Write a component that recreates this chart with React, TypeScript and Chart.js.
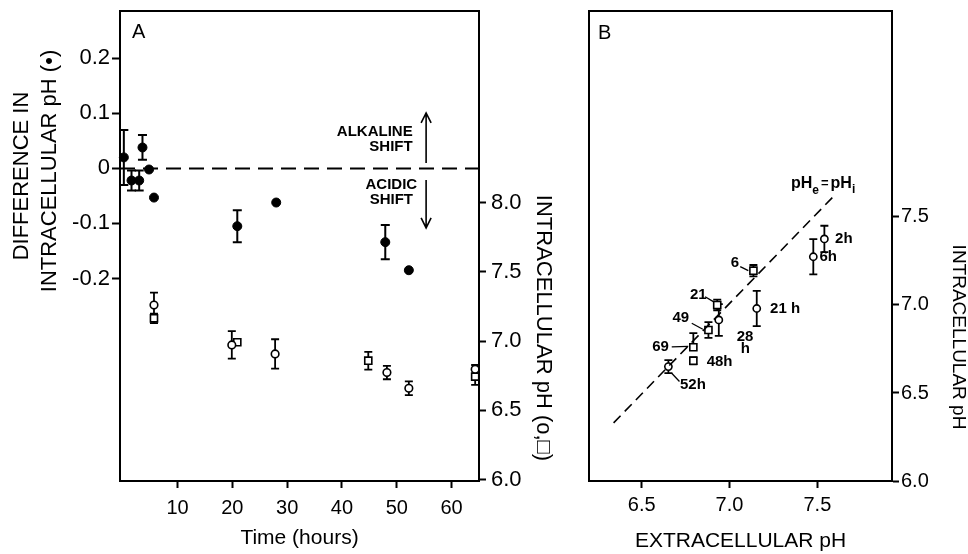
import React, { useEffect, useRef } from 'react';
import { Chart, registerables } from 'chart.js';

Chart.register(...registerables);

const FONT = '"Liberation Sans", Arial, Helvetica, sans-serif';

// ---------------- Panel A : time course ----------------
const timeFilledA = [0.2, 1.6, 3.0, 3.6, 4.8, 5.7, 20.9, 28.0, 47.9, 52.2];
const diffFilledA = [0.02, -0.022, -0.022, 0.038, -0.002, -0.053, -0.105, -0.062, -0.134, -0.185];
const diffErrA = [0.05, 0.018, 0.018, 0.0225, 0, 0, 0.029, 0, 0.031, 0];

const timeCircleA = [5.7, 19.9, 27.8, 48.2, 52.2, 64.3];
const phCircleA = [7.261, 6.973, 6.908, 6.773, 6.66, 6.797];
const phCircleErrA = [0.089, 0.099, 0.106, 0.048, 0.05, 0.031];

const timeSquareA = [5.7, 20.9, 44.8, 64.3];
const phSquareA = [7.165, 6.992, 6.859, 6.744];
const phSquareErrA = [0.034, 0, 0.064, 0.06];

const timeTicksA = [10, 20, 30, 40, 50, 60];
const diffTicksA = [0.2, 0.1, 0, -0.1, -0.2];
const phTicksA = [6.0, 6.5, 7.0, 7.5, 8.0];
const timeRangeA = [-0.5, 65];
const diffRangeA = [-0.568, 0.286];
const phRangeA = [5.99, 9.385];

// ---------------- Panel B : pHi vs pHe ----------------
const pheCircleB = [7.54, 7.477, 7.155, 6.939, 6.652];
const phiCircleB = [7.375, 7.274, 6.98, 6.915, 6.65];
const phiCircleErrB = [0.075, 0.1, 0.1, 0.09, 0.037];

const pheSquareB = [7.136, 6.93, 6.88, 6.794, 6.794];
const phiSquareB = [7.195, 7.0, 6.858, 6.76, 6.683];
const phiSquareErrUpB = [0.032, 0.03, 0.045, 0.08, 0.02];
const phiSquareErrDownB = [0.032, 0.03, 0.045, 0, 0.02];

const pheIdentityB = [6.34, 7.59];
const phiIdentityB = [6.33, 7.615];

const pheTicksB = [6.5, 7.0, 7.5];
const phiTicksB = [6.0, 6.5, 7.0, 7.5];
const pheRangeB = [6.2, 7.925];
const phiRangeB = [6.0, 8.67];

// ---------------- annotations (anchored in data units) ----------------
const shiftLabelsA = [
  { text: 'ALKALINE', x: 52.9, y: 0.0667, align: 'right' },
  { text: 'SHIFT', x: 52.9, y: 0.0395, align: 'right' },
  { text: 'ACIDIC', x: 49.0, y: -0.03, align: 'center' },
  { text: 'SHIFT', x: 49.0, y: -0.0575, align: 'center' },
];
const shiftArrowsA = [
  { x: 55.35, from: 0.0098, to: 0.1007 },
  { x: 55.35, from: -0.021, to: -0.108 },
];

const pointLabelsB = [
  { text: '2h', x: 7.601, y: 7.375, align: 'left' },
  { text: '6h', x: 7.512, y: 7.274, align: 'left' },
  { text: '6', x: 7.031, y: 7.237, align: 'center' },
  { text: '21', x: 6.822, y: 7.057, align: 'center' },
  { text: '21 h', x: 7.231, y: 6.976, align: 'left' },
  { text: '49', x: 6.723, y: 6.924, align: 'center' },
  { text: '28', x: 7.088, y: 6.82, align: 'center' },
  { text: 'h', x: 7.09, y: 6.752, align: 'center' },
  { text: '69', x: 6.607, y: 6.76, align: 'center' },
  { text: '48h', x: 6.87, y: 6.678, align: 'left' },
  { text: '52h', x: 6.718, y: 6.545, align: 'left' },
];
const leadersB = [
  { x1: 7.061, y1: 7.218, x2: 7.107, y2: 7.195 },
  { x1: 6.861, y1: 7.047, x2: 6.908, y2: 7.019 },
  { x1: 6.785, y1: 6.896, x2: 6.848, y2: 6.862 },
  { x1: 6.671, y1: 6.762, x2: 6.765, y2: 6.765 },
  { x1: 6.671, y1: 6.612, x2: 6.715, y2: 6.565 },
];
const identityLabelB = { x: 7.35, y: 7.665 };

// ---------------- plugins ----------------
const errorBarsPlugin = {
  id: 'errorBars',
  beforeDatasetsDraw(chart: any) {
    const ctx = chart.ctx;
    chart.data.datasets.forEach((ds: any, i: number) => {
      if (!ds.errUp) return;
      const meta = chart.getDatasetMeta(i);
      const xs = meta.xScale;
      const ys = meta.yScale;
      ctx.save();
      ctx.strokeStyle = '#000';
      ctx.lineWidth = ds.errLineWidth || 2;
      const c = ds.capHalf || 4;
      ds.data.forEach((p: any, j: number) => {
        const up = ds.errUp[j] || 0;
        const dn = ds.errDown[j] || 0;
        if (!up && !dn) return;
        const x = xs.getPixelForValue(p.x);
        const yT = ys.getPixelForValue(p.y + up);
        const yB = ys.getPixelForValue(p.y - dn);
        ctx.beginPath();
        ctx.moveTo(x, yT);
        ctx.lineTo(x, yB);
        if (up) { ctx.moveTo(x - c, yT); ctx.lineTo(x + c, yT); }
        if (dn) { ctx.moveTo(x - c, yB); ctx.lineTo(x + c, yB); }
        ctx.stroke();
      });
      ctx.restore();
    });
  },
};

function drawRotated(ctx: any, text: string, x: number, y: number, rot: number, font: string) {
  ctx.save();
  ctx.translate(x, y);
  ctx.rotate(rot);
  ctx.font = font;
  ctx.textAlign = 'center';
  ctx.textBaseline = 'middle';
  ctx.fillStyle = '#000';
  ctx.fillText(text, 0, 0);
  ctx.restore();
}

function drawArrow(ctx: any, x: number, y0: number, y1: number) {
  const dir = Math.sign(y1 - y0);
  ctx.beginPath();
  ctx.moveTo(x, y0);
  ctx.lineTo(x, y1);
  ctx.moveTo(x - 5, y1 - dir * 10);
  ctx.lineTo(x, y1);
  ctx.lineTo(x + 5, y1 - dir * 10);
  ctx.stroke();
}

const annotationsA = {
  id: 'annotationsA',
  afterDraw(chart: any) {
    const { ctx, chartArea: ca, scales } = chart;
    const xs = scales.x;
    const ys = scales.y;
    ctx.save();
    ctx.strokeStyle = '#000';
    ctx.fillStyle = '#000';
    ctx.lineWidth = 2;
    ctx.strokeRect(ca.left, ca.top, ca.right - ca.left, ca.bottom - ca.top);

    ctx.font = `20px ${FONT}`;
    ctx.textAlign = 'left';
    ctx.textBaseline = 'middle';
    ctx.fillText('A', ca.left + 12, ca.top + 21);

    ctx.font = `bold 15px ${FONT}`;
    shiftLabelsA.forEach((l) => {
      ctx.textAlign = l.align;
      ctx.fillText(l.text, xs.getPixelForValue(l.x), ys.getPixelForValue(l.y));
    });
    ctx.lineWidth = 1.6;
    shiftArrowsA.forEach((a) => {
      drawArrow(ctx, xs.getPixelForValue(a.x), ys.getPixelForValue(a.from), ys.getPixelForValue(a.to));
    });

    drawRotated(ctx, 'DIFFERENCE IN', ca.left - 98, ca.top + 165, -Math.PI / 2, `22px ${FONT}`);
    drawRotated(ctx, 'INTRACELLULAR pH (\u2022)', ca.left - 70, ca.top + 160, -Math.PI / 2, `22px ${FONT}`);
    drawRotated(ctx, 'INTRACELLULAR pH (o,\u25A1)', ca.right + 64, ca.top + 317, Math.PI / 2, `22px ${FONT}`);
    ctx.restore();
  },
};

const annotationsB = {
  id: 'annotationsB',
  afterDraw(chart: any) {
    const { ctx, chartArea: ca, scales } = chart;
    const xs = scales.x;
    const ys = scales.y;
    ctx.save();
    ctx.strokeStyle = '#000';
    ctx.fillStyle = '#000';
    ctx.lineWidth = 2;
    ctx.strokeRect(ca.left, ca.top, ca.right - ca.left, ca.bottom - ca.top);

    ctx.font = `20px ${FONT}`;
    ctx.textAlign = 'left';
    ctx.textBaseline = 'middle';
    ctx.fillText('B', ca.left + 9, ca.top + 22);

    ctx.font = `bold 15px ${FONT}`;
    pointLabelsB.forEach((l) => {
      ctx.textAlign = l.align;
      ctx.fillText(l.text, xs.getPixelForValue(l.x), ys.getPixelForValue(l.y));
    });

    ctx.lineWidth = 1.3;
    leadersB.forEach((l) => {
      ctx.beginPath();
      ctx.moveTo(xs.getPixelForValue(l.x1), ys.getPixelForValue(l.y1));
      ctx.lineTo(xs.getPixelForValue(l.x2), ys.getPixelForValue(l.y2));
      ctx.stroke();
    });

    // pHe = pHi
    let cx = xs.getPixelForValue(identityLabelB.x);
    const by = ys.getPixelForValue(identityLabelB.y);
    ctx.textAlign = 'left';
    ctx.textBaseline = 'alphabetic';
    const seg = (t: string, size: number, dy: number, gap: number) => {
      ctx.font = `bold ${size}px ${FONT}`;
      ctx.fillText(t, cx, by + dy);
      cx += ctx.measureText(t).width + gap;
    };
    seg('pH', 16, 0, 0);
    seg('e', 12, 6, 2);
    seg('=', 13, -1, 2);
    seg('pH', 16, 0, 0);
    seg('i', 12, 5, 0);

    drawRotated(ctx, 'INTRACELLULAR pH', ca.right + 66, ca.top + 326, Math.PI / 2, `19px ${FONT}`);
    ctx.restore();
  },
};

const pts = (xs: number[], ys: number[]) => xs.map((x, i) => ({ x, y: ys[i] }));

const tickFont = (size: number) => ({ family: FONT, size });

function buildA(canvas: HTMLCanvasElement) {
  return new Chart(canvas, {
    type: 'scatter',
    data: {
      datasets: [
        {
          label: 'zero line',
          data: pts(timeRangeA, [0, 0]),
          showLine: true,
          borderColor: '#000',
          borderWidth: 2,
          borderDash: [15, 8],
          pointRadius: 0,
          yAxisID: 'y',
          clip: false,
        },
        {
          label: 'Difference in intracellular pH',
          data: pts(timeFilledA, diffFilledA),
          errUp: diffErrA,
          errDown: diffErrA,
          capHalf: 4.5,
          errLineWidth: 2,
          yAxisID: 'y',
          pointStyle: 'circle',
          pointRadius: 4.5,
          pointBackgroundColor: '#000',
          pointBorderColor: '#000',
          pointBorderWidth: 1,
          clip: false,
        },
        {
          label: 'Intracellular pH (circles)',
          data: pts(timeCircleA, phCircleA),
          errUp: phCircleErrA,
          errDown: phCircleErrA,
          capHalf: 4,
          errLineWidth: 1.8,
          yAxisID: 'y2',
          pointStyle: 'circle',
          pointRadius: 3.8,
          pointBackgroundColor: '#fff',
          pointBorderColor: '#000',
          pointBorderWidth: 1.6,
          clip: false,
        },
        {
          label: 'Intracellular pH (squares)',
          data: pts(timeSquareA, phSquareA),
          errUp: phSquareErrA,
          errDown: phSquareErrA,
          capHalf: 4,
          errLineWidth: 1.8,
          yAxisID: 'y2',
          pointStyle: 'rect',
          pointRadius: 5,
          pointBackgroundColor: '#fff',
          pointBorderColor: '#000',
          pointBorderWidth: 1.6,
          clip: false,
        },
      ] as any,
    },
    options: {
      responsive: false,
      animation: false,
      events: [],
      layout: { padding: { top: 11, left: 0, right: 0, bottom: 0 } },
      plugins: { legend: { display: false }, tooltip: { enabled: false } },
      scales: {
        x: {
          type: 'linear',
          position: 'bottom',
          min: timeRangeA[0],
          max: timeRangeA[1],
          afterBuildTicks: (s: any) => { s.ticks = timeTicksA.map((v) => ({ value: v })); },
          afterFit: (s: any) => { s.height = 73; s.paddingLeft = 0; s.paddingRight = 0; },
          ticks: { color: '#000', font: tickFont(20), padding: 8, maxRotation: 0, autoSkip: false, callback: (v: any) => String(v) },
          grid: { drawOnChartArea: false, drawTicks: true, tickLength: 7, tickColor: '#000', tickWidth: 2 },
          border: { display: true, color: '#000', width: 2 },
          title: { display: true, text: 'Time (hours)', color: '#000', font: { family: FONT, size: 21 }, padding: { top: 0, bottom: 3 } },
        },
        y: {
          type: 'linear',
          position: 'left',
          min: diffRangeA[0],
          max: diffRangeA[1],
          afterBuildTicks: (s: any) => { s.ticks = diffTicksA.map((v) => ({ value: v })); },
          afterFit: (s: any) => { s.width = 120; s.paddingTop = 0; s.paddingBottom = 0; },
          ticks: { color: '#000', font: tickFont(22), padding: 2, autoSkip: false, callback: (v: any) => (v === 0 ? '0' : Number(v).toFixed(1)) },
          grid: { drawOnChartArea: false, drawTicks: true, tickLength: 8, tickColor: '#000', tickWidth: 2 },
          border: { display: true, color: '#000', width: 2 },
        },
        y2: {
          type: 'linear',
          position: 'right',
          min: phRangeA[0],
          max: phRangeA[1],
          afterBuildTicks: (s: any) => { s.ticks = phTicksA.map((v) => ({ value: v })); },
          afterFit: (s: any) => { s.width = 81; s.paddingTop = 0; s.paddingBottom = 0; },
          ticks: { color: '#000', font: tickFont(22), padding: 5, autoSkip: false, callback: (v: any) => Number(v).toFixed(1) },
          grid: { drawOnChartArea: false, drawTicks: true, tickLength: 7, tickColor: '#000', tickWidth: 2 },
          border: { display: true, color: '#000', width: 2 },
        },
      },
    } as any,
    plugins: [errorBarsPlugin, annotationsA],
  });
}

function buildB(canvas: HTMLCanvasElement) {
  return new Chart(canvas, {
    type: 'scatter',
    data: {
      datasets: [
        {
          label: 'pHe = pHi',
          data: pts(pheIdentityB, phiIdentityB),
          showLine: true,
          borderColor: '#000',
          borderWidth: 1.6,
          borderDash: [10, 6],
          pointRadius: 0,
          clip: false,
        },
        {
          label: 'Intracellular pH (circles)',
          data: pts(pheCircleB, phiCircleB),
          errUp: phiCircleErrB,
          errDown: phiCircleErrB,
          capHalf: 4,
          errLineWidth: 1.8,
          pointStyle: 'circle',
          pointRadius: 3.6,
          pointBackgroundColor: '#fff',
          pointBorderColor: '#000',
          pointBorderWidth: 1.6,
          clip: false,
        },
        {
          label: 'Intracellular pH (squares)',
          data: pts(pheSquareB, phiSquareB),
          errUp: phiSquareErrUpB,
          errDown: phiSquareErrDownB,
          capHalf: 4,
          errLineWidth: 1.8,
          pointStyle: 'rect',
          pointRadius: 5,
          pointBackgroundColor: '#fff',
          pointBorderColor: '#000',
          pointBorderWidth: 1.6,
          clip: false,
        },
      ] as any,
    },
    options: {
      responsive: false,
      animation: false,
      events: [],
      layout: { padding: { top: 11, left: 29, right: 0, bottom: 0 } },
      plugins: { legend: { display: false }, tooltip: { enabled: false } },
      scales: {
        x: {
          type: 'linear',
          position: 'bottom',
          min: pheRangeB[0],
          max: pheRangeB[1],
          afterBuildTicks: (s: any) => { s.ticks = pheTicksB.map((v) => ({ value: v })); },
          afterFit: (s: any) => { s.height = 73; s.paddingLeft = 0; s.paddingRight = 0; },
          ticks: { color: '#000', font: tickFont(20), padding: 5, maxRotation: 0, autoSkip: false, callback: (v: any) => Number(v).toFixed(1) },
          grid: { drawOnChartArea: false, drawTicks: true, tickLength: 7, tickColor: '#000', tickWidth: 2 },
          border: { display: true, color: '#000', width: 2 },
          title: { display: true, text: 'EXTRACELLULAR pH', color: '#000', font: { family: FONT, size: 21 }, padding: { top: 0, bottom: 0 } },
        },
        y: {
          type: 'linear',
          position: 'right',
          min: phiRangeB[0],
          max: phiRangeB[1],
          afterBuildTicks: (s: any) => { s.ticks = phiTicksB.map((v) => ({ value: v })); },
          afterFit: (s: any) => { s.width = 76; s.paddingTop = 0; s.paddingBottom = 0; },
          ticks: { color: '#000', font: tickFont(20), padding: 2, autoSkip: false, callback: (v: any) => Number(v).toFixed(1) },
          grid: { drawOnChartArea: false, drawTicks: true, tickLength: 7, tickColor: '#000', tickWidth: 2 },
          border: { display: true, color: '#000', width: 2 },
        },
      },
    } as any,
    plugins: [errorBarsPlugin, annotationsB],
  });
}

export default function App() {
  const refA = useRef<HTMLCanvasElement>(null);
  const refB = useRef<HTMLCanvasElement>(null);

  useEffect(() => {
    const a = buildA(refA.current as HTMLCanvasElement);
    const b = buildB(refB.current as HTMLCanvasElement);
    return () => {
      a.destroy();
      b.destroy();
    };
  }, []);

  return (
    <div style={{ position: 'absolute', left: 0, top: 0, width: 968, height: 554, background: '#fff' }}>
      <canvas ref={refA} width={560} height={554} style={{ position: 'absolute', left: 0, top: 0, width: 560, height: 554 }} />
      <canvas ref={refB} width={408} height={554} style={{ position: 'absolute', left: 560, top: 0, width: 408, height: 554 }} />
    </div>
  );
}
